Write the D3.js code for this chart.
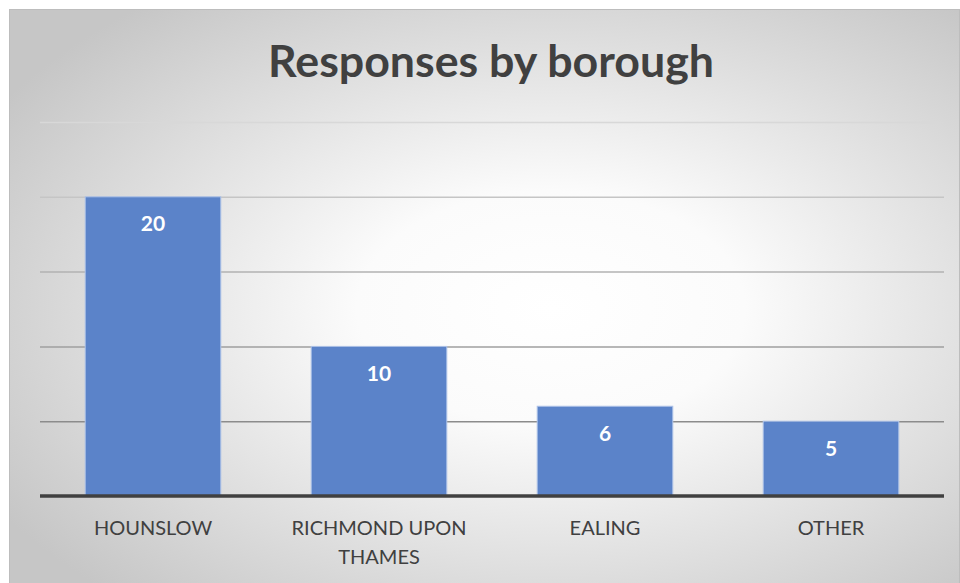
<!DOCTYPE html>
<html>
<head>
<meta charset="utf-8">
<script src="https://cdn.jsdelivr.net/npm/d3@7"></script>
<style>
  body { margin: 0; background: #fff; }
  svg { display: block; }
</style>
</head>
<body>
<div id="chart"></div>
<script>
// data
var boroughs = ["HOUNSLOW", "RICHMOND UPON THAMES", "EALING", "OTHER"];
var responses = [20, 10, 6, 5];
var yTicks = [0, 5, 10, 15, 20, 25];

var W = 960, H = 583;
var margin = { top: 122, right: 16, bottom: 87, left: 40 };

var svg = d3.select("#chart").append("svg")
  .attr("width", W)
  .attr("height", H);

// background radial gradient, like the office chart style
var defs = svg.append("defs");
var grad = defs.append("radialGradient")
  .attr("id", "bg")
  .attr("cx", "57%").attr("cy", "52%").attr("r", "68%");
grad.append("stop").attr("offset", "0%").attr("stop-color", "#ffffff");
grad.append("stop").attr("offset", "30%").attr("stop-color", "#fbfbfb");
grad.append("stop").attr("offset", "100%").attr("stop-color", "#c6c6c6");

svg.append("rect")
  .attr("x", 9.5).attr("y", 9.5)
  .attr("width", W - 10).attr("height", H - 9)
  .attr("fill", "url(#bg)")
  .attr("stroke", "#bdbdbd")
  .attr("stroke-width", 1);

var x = d3.scaleBand()
  .domain(boroughs)
  .range([margin.left, W - margin.right])
  .paddingInner(0.4)
  .paddingOuter(0.2);

var y = d3.scaleLinear()
  .domain([0, 25])
  .range([H - margin.bottom, margin.top]);

// gridlines, getting a bit darker lower down
var gridColor = d3.scaleLinear().domain([25, 5]).range(["#d8d8d8", "#8c8c8c"]);
var grid = svg.append("g")
  .attr("transform", "translate(" + margin.left + ",0)")
  .call(d3.axisLeft(y).tickValues(yTicks.slice(1)).tickSize(-(W - margin.left - margin.right)).tickFormat(""));
grid.select(".domain").remove();
grid.selectAll(".tick line")
  .attr("stroke", function (d) { return gridColor(d); })
  .attr("stroke-width", 1.5);

// bars
svg.selectAll("rect.bar")
  .data(boroughs)
  .enter()
  .append("rect")
  .attr("class", "bar")
  .attr("x", function (d) { return x(d); })
  .attr("y", function (d, i) { return y(responses[i]); })
  .attr("width", x.bandwidth())
  .attr("height", function (d, i) { return y(0) - y(responses[i]); })
  .attr("fill", "#5b83c9")
  .attr("stroke", "#aec3e8")
  .attr("stroke-width", 1);

// value labels
svg.selectAll("text.val")
  .data(boroughs)
  .enter()
  .append("text")
  .attr("class", "val")
  .attr("x", function (d) { return x(d) + x.bandwidth() / 2; })
  .attr("y", function (d, i) { return y(responses[i]) + 34.5; })
  .attr("text-anchor", "middle")
  .attr("font-family", "Lato")
  .attr("font-weight", "bold")
  .attr("font-size", 21)
  .attr("fill", "#ffffff")
  .text(function (d, i) { return responses[i]; });

// baseline
svg.append("line")
  .attr("x1", margin.left).attr("x2", W - margin.right)
  .attr("y1", y(0)).attr("y2", y(0))
  .attr("stroke", "#404040")
  .attr("stroke-width", 3.5);

// category axis
var xAxis = svg.append("g")
  .attr("transform", "translate(0," + y(0) + ")")
  .call(d3.axisBottom(x).tickSize(0).tickPadding(0));
xAxis.select(".domain").remove();
xAxis.selectAll(".tick text")
  .attr("font-family", "Lato")
  .attr("font-size", 20)
  .attr("fill", "#404040")
  .attr("y", 0)
  .attr("dy", null)
  .each(function (d) {
    var t = d3.select(this);
    var words = d.split(" ");
    t.text(null);
    var line = [], lines = [];
    var tmp = t.append("tspan");
    words.forEach(function (w) {
      line.push(w);
      tmp.text(line.join(" "));
      if (tmp.node().getComputedTextLength() > x.step() * 0.85 && line.length > 1) {
        line.pop();
        lines.push(line.join(" "));
        line = [w];
      }
    });
    lines.push(line.join(" "));
    tmp.remove();
    lines.forEach(function (l, i) {
      t.append("tspan").attr("x", 0).attr("y", 39 + i * 29).text(l);
    });
  });

// title
var title = svg.append("text")
  .attr("x", 491)
  .attr("y", 77)
  .attr("text-anchor", "middle")
  .attr("font-family", "Lato")
  .attr("font-weight", "bold")
  .attr("font-size", 40)
  .attr("fill", "#404040")
  .text("Responses by borough");
var tw = title.node().getComputedTextLength();
title.attr("font-size", 40 * 446 / tw);
</script>
</body>
</html>
